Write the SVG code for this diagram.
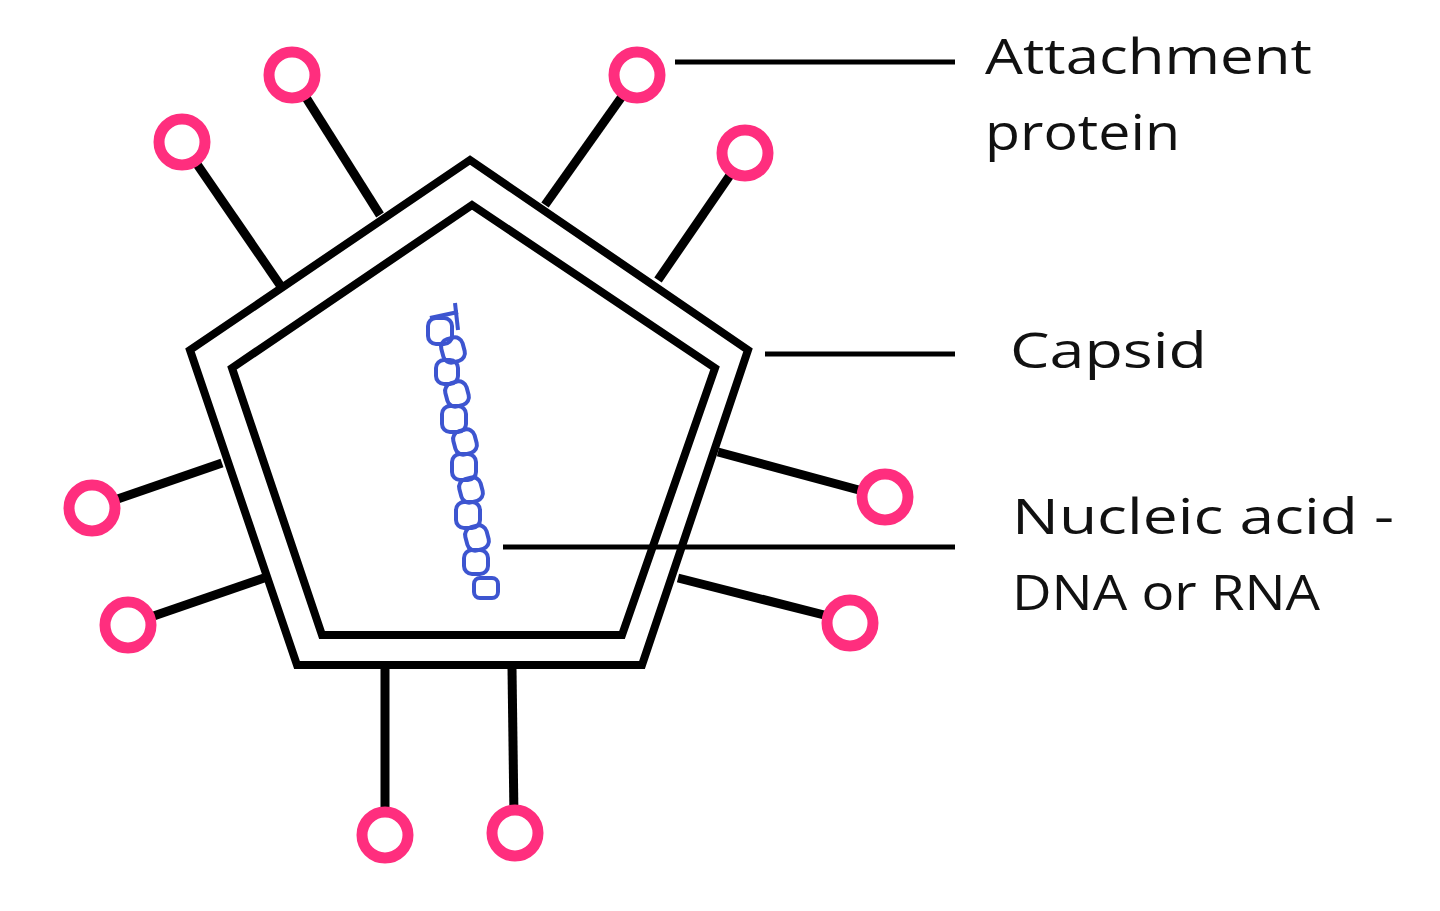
<svg xmlns="http://www.w3.org/2000/svg" width="1440" height="911" viewBox="0 0 1440 911">
<style>
.k{stroke:#000;stroke-width:8;fill:none}
.s{stroke:#000;stroke-width:9}
.c{fill:#fff;stroke:#ff2e7e;stroke-width:11}
.l{stroke:#000;stroke-width:5}
.t{font-family:"Open Sans",Lato,sans-serif;font-size:50px;fill:#111}
.n{fill:none;stroke:#3d55d0;stroke-width:4}
</style>
<rect width="1440" height="911" fill="#fff"/>
<g id="spikes">
<line class="s" x1="280" y1="285" x2="190" y2="154"/><circle class="c" cx="182" cy="142" r="23"/>
<line class="s" x1="380" y1="215" x2="300" y2="88"/><circle class="c" cx="292" cy="75" r="23"/>
<line class="s" x1="545" y1="205" x2="628" y2="88"/><circle class="c" cx="637" cy="75" r="23"/>
<line class="s" x1="658" y1="280" x2="737" y2="165"/><circle class="c" cx="745" cy="153" r="23"/>
<line class="s" x1="222" y1="463" x2="106" y2="503"/><circle class="c" cx="92" cy="508" r="23"/>
<line class="s" x1="264" y1="578" x2="142" y2="620"/><circle class="c" cx="128" cy="625" r="23"/>
<line class="s" x1="718" y1="452" x2="870" y2="493"/><circle class="c" cx="885" cy="497" r="23"/>
<line class="s" x1="678" y1="578" x2="836" y2="618"/><circle class="c" cx="850" cy="623" r="23"/>
<line class="s" x1="385" y1="668" x2="385" y2="820"/><circle class="c" cx="385" cy="835" r="23"/>
<line class="s" x1="512" y1="668" x2="514" y2="818"/><circle class="c" cx="515" cy="833" r="23"/>
</g>
<g id="capsid">
<polygon class="k" points="470,160 748,350 642,665 297,665 190,350" fill="#fff"/>
<polygon class="k" points="472,205 715,368 622,635 322,635 232,368"/>
</g>
<g id="nucleic">
<line class="n" x1="455" y1="303" x2="458" y2="330"/>
<path class="n" d="M430,318 L458,312"/>
<rect class="n" x="428" y="318" width="24" height="26" rx="8"/>
<rect class="n" x="442" y="338" width="22" height="24" rx="8" transform="rotate(-15 453 350)"/>
<rect class="n" x="436" y="360" width="22" height="24" rx="8"/>
<rect class="n" x="446" y="382" width="22" height="24" rx="8" transform="rotate(-15 457 394)"/>
<rect class="n" x="442" y="406" width="24" height="26" rx="8"/>
<rect class="n" x="454" y="430" width="22" height="24" rx="8" transform="rotate(-15 465 442)"/>
<rect class="n" x="452" y="454" width="24" height="26" rx="8"/>
<rect class="n" x="460" y="478" width="22" height="24" rx="8" transform="rotate(-15 471 490)"/>
<rect class="n" x="456" y="502" width="24" height="26" rx="8"/>
<rect class="n" x="466" y="526" width="22" height="24" rx="8" transform="rotate(-15 477 538)"/>
<rect class="n" x="464" y="550" width="24" height="24" rx="8"/>
<rect class="n" x="474" y="578" width="24" height="20" rx="6"/>
</g>
<g id="labels">
<line class="l" x1="675" y1="62" x2="955" y2="62"/>
<line class="l" x1="765" y1="354" x2="955" y2="354"/>
<line class="l" x1="503" y1="547" x2="955" y2="547"/>
<text class="t" x="985" y="74" textLength="327" lengthAdjust="spacingAndGlyphs">Attachment</text>
<text class="t" x="985" y="150" textLength="195" lengthAdjust="spacingAndGlyphs">protein</text>
<text class="t" x="1010" y="368" textLength="197" lengthAdjust="spacingAndGlyphs">Capsid</text>
<text class="t" x="1012" y="534" textLength="382" lengthAdjust="spacingAndGlyphs">Nucleic acid -</text>
<text class="t" x="1012" y="610" textLength="308" lengthAdjust="spacingAndGlyphs">DNA or RNA</text>
</g>
</svg>
